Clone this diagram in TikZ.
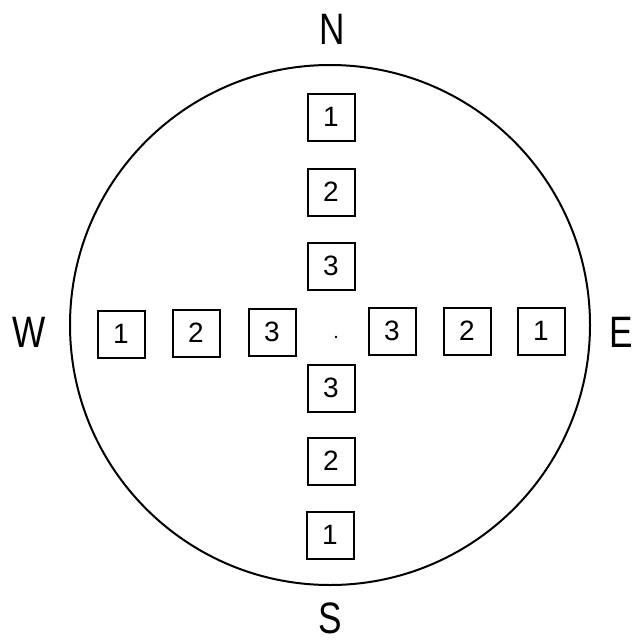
\documentclass[tikz,border=0pt]{standalone}
\usepackage{fontspec}
\setmainfont{Liberation Sans}
\newcommand{\narrowletter}[1]{\scalebox{0.8}[1]{#1}}
\begin{document}
\begin{tikzpicture}[x=1pt,y=-1pt,
  cell/.style={draw=black, line width=2pt, minimum width=47pt, minimum height=47pt,
    inner sep=0pt, font=\fontsize{28}{28}\selectfont},
  compass/.style={font=\fontsize{44}{44}\selectfont, inner sep=0pt, text depth=0pt}]
  \useasboundingbox (0,0) rectangle (634,643);
  % outer circle
  \draw[line width=2pt] (330,325) circle (260);
  % centre mark
  \fill (336,337) circle (1.3);
  % compass letters
  \node[compass] (N) at (332,29) {\narrowletter{N}};
  \node[compass, anchor=base] (S) at (330,633) {\narrowletter{S}};
  \node[compass] (W) at (29,332) {\narrowletter{W}};
  \node[compass] (E) at (621,332) {\narrowletter{E}};
  % north arm
  \node[cell] (n1) at (331,117) {1};
  \node[cell] (n2) at (331,192) {2};
  \node[cell] (n3) at (331,266) {3};
  % south arm
  \node[cell] (s3) at (331,388) {3};
  \node[cell] (s2) at (331,461) {2};
  \node[cell] (s1) at (330,535) {1};
  % west arm
  \node[cell] (w1) at (121,334) {1};
  \node[cell] (w2) at (196,333) {2};
  \node[cell] (w3) at (272,332) {3};
  % east arm
  \node[cell] (e3) at (392,331) {3};
  \node[cell] (e2) at (467,331) {2};
  \node[cell] (e1) at (541,331) {1};
\end{tikzpicture}
\end{document}
